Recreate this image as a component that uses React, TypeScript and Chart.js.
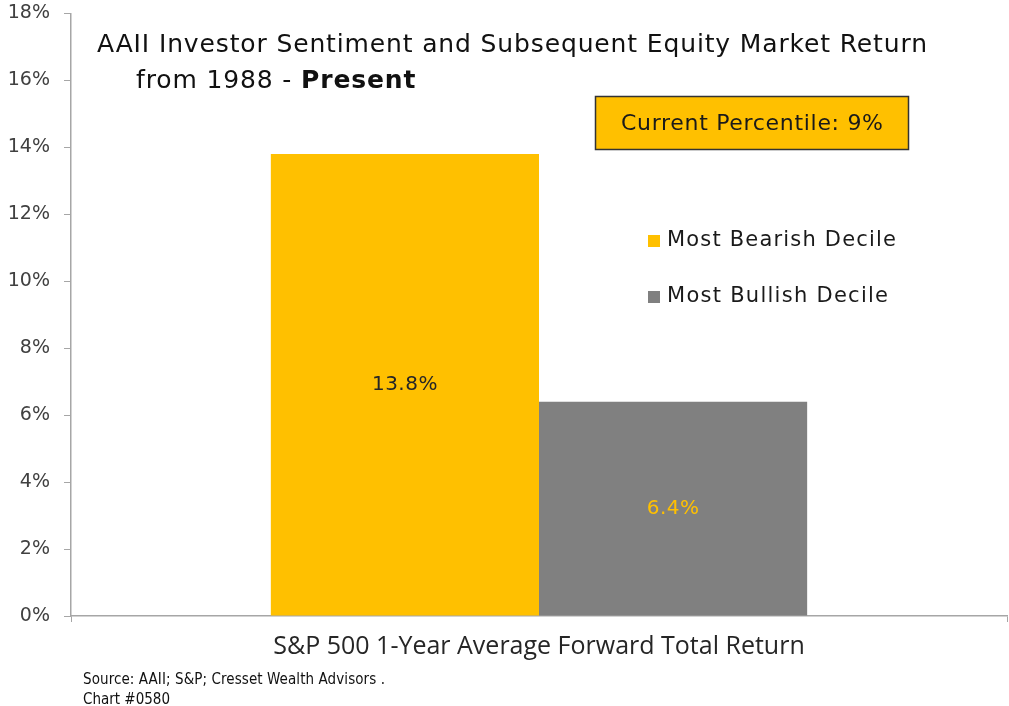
import React, { useEffect, useRef } from "react";
import { Chart, registerables } from "chart.js";

Chart.register(...registerables);

const categories = ["S&P 500 1-Year Average Forward Total Return"];
const seriesNames = ["Most Bearish Decile", "Most Bullish Decile"];
const bearishValues = [13.8];
const bullishValues = [6.4];
const seriesColors = ["#FFC000", "#808080"];
const valueLabelColors = ["#262626", "#FFC000"];
const yMin = 0;
const yMax = 18;
const yStep = 2;
const titleLine1 = "AAII Investor Sentiment and Subsequent Equity Market Return";
const titleLine2a = "from 1988 - ";
const titleLine2b = "Present";
const boxText = "Current Percentile: 9%";
const footLines = ["Source: AAII; S&P; Cresset Wealth Advisors .", "Chart #0580"];

const FONT = "'DejaVu Sans', 'Noto Sans', sans-serif";
const W = 1009;
const H = 706;
const SHIFT = 12; // canvas is drawn taller and shifted up so the plot top sits near the page top

function spacedText(ctx: any, text: string, x: number, y: number, width: number) {
  ctx.letterSpacing = "0px";
  const w = ctx.measureText(text).width;
  const ls = (width - w) / Math.max(1, text.length - 1);
  ctx.letterSpacing = ls + "px";
  ctx.fillText(text, x, y);
  ctx.letterSpacing = "0px";
  return ls;
}

const overlayPlugin = {
  id: "overlay",
  afterDatasetsDraw(chart: any) {
    const ctx = chart.ctx;
    ctx.save();
    chart.data.datasets.forEach((ds: any, i: number) => {
      const meta = chart.getDatasetMeta(i);
      meta.data.forEach((el: any, j: number) => {
        const v = ds.data[j];
        const cy = (el.y + el.base) / 2;
        ctx.fillStyle = valueLabelColors[i];
        ctx.font = `20px ${FONT}`;
        ctx.textAlign = "center";
        ctx.textBaseline = "middle";
        ctx.letterSpacing = "0.5px";
        ctx.fillText(v.toFixed(1) + "%", el.x, cy);
        ctx.letterSpacing = "0px";
      });
    });
    ctx.translate(0, SHIFT);
    ctx.fillStyle = "#111111";
    ctx.textAlign = "left";
    ctx.textBaseline = "middle";
    ctx.font = `25px ${FONT}`;
    const ls = spacedText(ctx, titleLine1, 97, 45, 830);
    ctx.letterSpacing = ls + "px";
    ctx.fillText(titleLine2a, 136, 81);
    const w = ctx.measureText(titleLine2a).width;
    ctx.font = `600 25px ${FONT}`;
    ctx.fillText(titleLine2b, 136 + w, 81);
    ctx.letterSpacing = "0px";
    ctx.fillStyle = "#FFC000";
    ctx.fillRect(595, 96, 314, 54);
    ctx.strokeStyle = "#333333";
    ctx.lineWidth = 1.5;
    ctx.strokeRect(595.5, 96.5, 313, 53);
    ctx.fillStyle = "#1a1a1a";
    ctx.font = `22px ${FONT}`;
    spacedText(ctx, boxText, 621, 124, 262);
    seriesNames.forEach((n, i) => {
      const y = 241 + i * 56;
      ctx.fillStyle = seriesColors[i];
      ctx.fillRect(648, y - 6, 12, 12);
      ctx.fillStyle = "#1a1a1a";
      ctx.font = `21px ${FONT}`;
      spacedText(ctx, n, 667, y, i === 0 ? 229 : 221);
    });
    ctx.fillStyle = "#111111";
    ctx.font = `15px 'Liberation Sans Narrow', 'DejaVu Sans Condensed', sans-serif`;
    spacedText(ctx, footLines[0], 83, 680, 302);
    ctx.fillText(footLines[1], 83, 700);
    ctx.restore();
  },
};

export default function App() {
  const ref = useRef<HTMLCanvasElement>(null);
  useEffect(() => {
    if (!ref.current) return;
    const chart = new Chart(ref.current, {
      type: "bar",
      data: {
        labels: categories,
        datasets: [
          { label: seriesNames[0], data: bearishValues, backgroundColor: seriesColors[0] },
          { label: seriesNames[1], data: bullishValues, backgroundColor: seriesColors[1] },
        ],
      },
      plugins: [overlayPlugin],
      options: {
        responsive: false,
        animation: false,
        devicePixelRatio: 1,
        layout: { padding: { top: 0, right: 2, left: 2, bottom: 0 } },
        datasets: { bar: { categoryPercentage: 0.573, barPercentage: 1 } },
        plugins: { legend: { display: false }, tooltip: { enabled: false }, title: { display: false } },
        scales: {
          x: {
            grid: { display: true, drawOnChartArea: false, drawTicks: true, tickLength: 6, color: "#a6a6a6", offset: true },
            border: { display: true, color: "#a6a6a6", width: 1.5 },
            ticks: { color: "#262626", font: { family: "'Open Sans', Lato, sans-serif", size: 25 }, padding: 10 },
            afterFit: (s: any) => { s.height = 90; },
          },
          y: {
            min: yMin,
            max: yMax,
            grid: { display: true, drawOnChartArea: false, drawTicks: true, tickLength: 7, color: "#a6a6a6" },
            border: { display: true, color: "#a6a6a6", width: 1.5 },
            ticks: {
              stepSize: yStep,
              color: "#404040",
              font: { family: FONT, size: 19 },
              padding: 14,
              callback: (v: any) => v + "%",
            },
            afterFit: (s: any) => { s.width = 69; },
          },
        },
      },
    });
    return () => chart.destroy();
  }, []);
  return (
    <div style={{ position: "absolute", left: 0, top: 0, width: W, height: H, overflow: "hidden", background: "#fff" }}>
      <canvas ref={ref} width={W} height={H + SHIFT} style={{ position: "absolute", left: 0, top: -SHIFT }} />
    </div>
  );
}
